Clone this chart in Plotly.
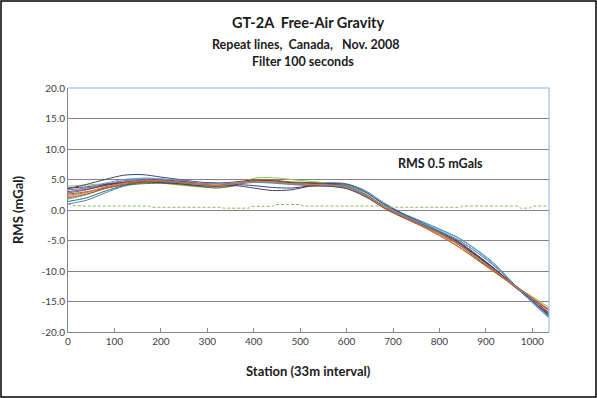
import plotly.graph_objects as go

stations = [0, 40, 80, 120, 160, 200, 240, 280, 320, 360, 400, 440, 480, 520,
            560, 600, 640, 680, 720, 760, 800, 840, 880, 920, 960, 1000, 1035]

line_01 = [1.0, 1.6, 2.8, 3.9, 4.4, 4.6, 4.4, 4.0, 3.9, 4.2, 4.6, 4.5, 4.3, 4.4, 4.5, 4.3, 3.2, 1.2, -0.5, -1.8, -3.1, -4.5, -6.5, -8.9, -12.1, -15.2, -17.6]
line_02 = [2.8, 3.3, 4.1, 4.6, 4.9, 4.9, 4.6, 4.3, 4.2, 4.3, 4.7, 4.8, 4.5, 4.4, 4.3, 3.9, 2.4, 0.5, -1.0, -2.3, -3.7, -5.3, -7.5, -10.0, -12.5, -14.7, -16.9]
line_03 = [3.9, 4.1, 4.3, 4.4, 4.5, 4.4, 4.1, 3.8, 3.7, 4.1, 5.2, 5.3, 5.0, 4.7, 4.4, 4.0, 2.7, 0.8, -0.7, -2.0, -3.6, -5.6, -7.8, -10.1, -12.3, -14.2, -15.9]
line_04 = [3.3, 3.6, 4.2, 4.8, 5.0, 5.0, 4.8, 4.4, 4.3, 4.5, 4.7, 4.6, 4.2, 4.0, 3.9, 3.6, 2.3, 0.4, -1.1, -2.5, -4.0, -5.6, -7.6, -9.8, -12.3, -14.9, -17.0]
line_05 = [1.8, 2.5, 3.6, 4.5, 5.2, 5.1, 4.7, 4.3, 4.0, 4.2, 4.5, 4.4, 4.2, 4.4, 4.3, 4.0, 2.9, 1.0, -0.6, -1.9, -3.2, -4.6, -6.6, -9.1, -12.1, -14.9, -17.3]
line_06 = [2.2, 2.8, 3.7, 4.3, 4.7, 4.8, 4.6, 4.3, 4.2, 4.5, 4.8, 4.7, 4.5, 4.3, 4.2, 3.8, 2.4, 0.5, -1.0, -2.4, -4.0, -5.9, -8.1, -10.3, -12.4, -14.4, -16.2]
line_07 = [3.5, 4.2, 5.0, 5.7, 5.8, 5.4, 5.0, 4.6, 4.4, 4.2, 4.0, 3.7, 3.6, 3.9, 3.9, 3.5, 2.2, 0.4, -1.1, -2.4, -3.8, -5.5, -7.5, -9.8, -12.4, -15.0, -17.2]
line_08 = [3.0, 3.4, 4.0, 4.5, 4.8, 4.9, 4.7, 4.5, 4.4, 4.6, 4.9, 4.8, 4.5, 4.4, 4.2, 3.8, 2.5, 0.6, -0.9, -2.3, -3.7, -5.3, -7.4, -9.7, -12.2, -14.6, -16.8]
line_09 = [2.6, 3.0, 3.6, 4.1, 4.3, 4.4, 4.2, 3.9, 3.6, 4.0, 4.9, 4.9, 4.6, 4.5, 4.3, 3.9, 2.6, 0.7, -0.8, -2.1, -3.7, -5.6, -7.9, -10.1, -12.2, -14.4, -16.3]
line_10 = [3.6, 3.8, 4.2, 4.5, 4.6, 4.5, 4.3, 4.0, 3.9, 4.0, 3.6, 3.2, 3.3, 3.9, 4.3, 4.2, 3.0, 1.0, -0.6, -2.0, -3.5, -5.1, -7.3, -9.7, -12.4, -15.0, -17.1]
line_11 = [1.4, 2.0, 3.1, 4.0, 4.6, 4.8, 4.6, 4.2, 4.0, 4.3, 4.6, 4.5, 4.3, 4.2, 4.1, 3.7, 2.4, 0.5, -1.0, -2.3, -3.5, -4.9, -6.9, -9.3, -12.1, -14.9, -17.5]
line_12 = [2.0, 2.6, 3.5, 4.2, 4.6, 4.7, 4.5, 4.2, 4.0, 4.3, 4.7, 4.6, 4.3, 4.1, 4.0, 3.7, 2.3, 0.3, -1.2, -2.6, -4.2, -6.0, -8.1, -10.2, -12.4, -14.5, -16.4]
line_13 = [2.9, 3.5, 4.4, 5.0, 5.2, 5.1, 4.9, 4.5, 4.3, 4.5, 4.6, 4.5, 4.3, 4.2, 4.1, 3.8, 2.6, 0.7, -0.8, -2.1, -3.4, -4.9, -6.9, -9.3, -12.2, -15.1, -17.4]
line_14 = [2.4, 2.9, 3.8, 4.4, 4.8, 4.8, 4.6, 4.2, 4.0, 4.3, 4.6, 4.6, 4.3, 4.2, 4.1, 3.7, 2.4, 0.5, -1.0, -2.4, -3.8, -5.5, -7.7, -10.0, -12.3, -14.5, -16.5]

rms_stations = [0, 15, 30, 175, 180, 330, 335, 390, 395, 440, 445, 500, 505, 675, 680, 845, 850, 970, 975, 995, 1000, 1035]
rms_values = [1.0, 0.7, 0.65, 0.65, 0.45, 0.45, 0.3, 0.3, 0.6, 0.6, 0.9, 0.9, 0.65, 0.65, 0.45, 0.45, 0.65, 0.65, 0.3, 0.3, 0.65, 0.65]

series = [line_01, line_02, line_03, line_04, line_05, line_06, line_07,
          line_08, line_09, line_10, line_11, line_12, line_13, line_14]
colors = ["#4F81BD", "#C0504D", "#9BBB59", "#8064A2", "#4BACC6", "#F79646",
          "#2C4D75", "#772C2A", "#5F7530", "#4D3B62", "#276A7C", "#B65708",
          "#729ACA", "#CD7371"]

x_ticks = list(range(0, 1001, 100))
y_ticks = [-20, -15, -10, -5, 0, 5, 10, 15, 20]
y_tick_labels = ["-20.0", "-15.0", "-10.0", "-5.0", "0.0", "5.0", "10.0", "15.0", "20.0"]

fig = go.Figure()
for vals, col in zip(series, colors):
    fig.add_trace(go.Scatter(x=stations, y=vals, mode="lines",
                             line=dict(color=col, width=1, shape="spline", smoothing=0.8),
                             showlegend=False, hoverinfo="skip"))
fig.add_trace(go.Scatter(x=rms_stations, y=rms_values, mode="lines",
                         line=dict(color="#8DB45A", width=1, dash="3px,2px"),
                         showlegend=False, hoverinfo="skip"))

W, H = 597, 398
L, R, T, B = 68, 48, 88, 66
pw, ph = W - L - R, H - T - B

def px(xp):
    return (xp - L) / pw

def py(yp):
    return (H - B - yp) / ph

font_family = "Lato, 'Open Sans', sans-serif"
title_col = "#1a1a1a"

fig.update_layout(
    width=W, height=H,
    margin=dict(l=L, r=R, t=T, b=B, pad=0),
    paper_bgcolor="white", plot_bgcolor="white",
    font=dict(family=font_family, color="#404040"),
    xaxis=dict(range=[0, 1036], tickvals=x_ticks, ticks="inside", ticklen=4,
               tickcolor="#868686", showline=True, linecolor="#868686", linewidth=1,
               showgrid=False, zeroline=False, tickfont=dict(size=10, color="#404040"),
               fixedrange=True),
    yaxis=dict(range=[-20, 20], tickvals=y_ticks, ticktext=y_tick_labels, ticks="",
               showline=True, linecolor="#868686", linewidth=1,
               showgrid=True, gridcolor="#8C7F7F", gridwidth=1,
               zeroline=True, zerolinecolor="#8C7F7F", zerolinewidth=1,
               tickfont=dict(size=10, color="#404040"), fixedrange=True),
)

annos = [
    ("<b>GT-2A  Free-Air Gravity</b>", 308, 22, 14.5),
    ("<b>Repeat lines,  Canada,   Nov. 2008</b>", 306, 44, 12.5),
    ("<b>Filter 100 seconds</b>", 303, 61, 12.5),
    ("<b>Station (33m interval)</b>", 308, 371, 13),
    ("<b>RMS 0.5 mGals</b>", 440, 163, 12.5),
]
for text, xp, yp, size in annos:
    fig.add_annotation(text=text, x=px(xp), y=py(yp), xref="paper", yref="paper",
                       showarrow=False, xanchor="center", yanchor="middle",
                       font=dict(size=size, color=title_col, family=font_family))
fig.add_annotation(text="<b>RMS (mGal)</b>", x=px(18), y=py(210), xref="paper", yref="paper",
                   showarrow=False, textangle=-90, xanchor="center", yanchor="middle",
                   font=dict(size=13, color=title_col, family=font_family))

# light blue plot border on top and right
fig.add_shape(type="line", xref="paper", yref="paper", x0=0, x1=1, y0=1, y1=1,
              line=dict(color="#8DB3E2", width=1))
fig.add_shape(type="line", xref="paper", yref="paper", x0=1, x1=1, y0=0, y1=1,
              line=dict(color="#8DB3E2", width=1))
# outer black frame
fig.add_shape(type="rect", xref="paper", yref="paper",
              x0=px(1), x1=px(596), y0=py(397), y1=py(1),
              line=dict(color="black", width=1.5), fillcolor="rgba(0,0,0,0)")

fig.write_html("out.html", config={"displayModeBar": False},
               post_script="document.body.style.margin='0px';")
